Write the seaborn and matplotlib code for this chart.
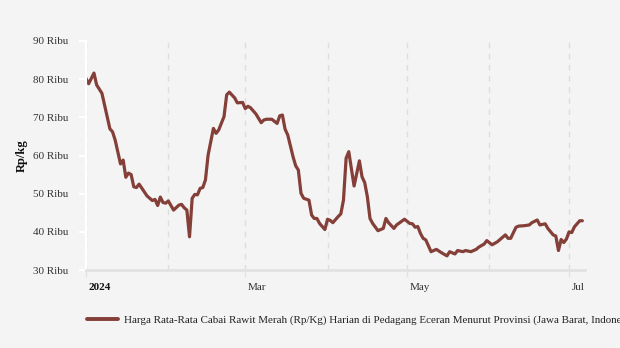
import matplotlib
matplotlib.use("Agg")
import matplotlib.pyplot as plt
import matplotlib.dates as mdates
import matplotlib.ticker as mticker
import matplotlib.transforms as mtransforms
from matplotlib.lines import Line2D
import numpy as np
import pandas as pd
import seaborn as sns

# ---- data (day offset from 2024-01-01, price in thousand Rp/kg) ----
day_offsets = [0, 1, 3, 4, 6, 9, 10, 11, 13, 14, 15, 16, 17, 18, 19, 20, 22, 23, 25, 26,
               27, 28, 29, 30, 31, 33, 35, 36, 37, 38, 39, 40, 41, 42, 43, 44, 45, 46, 47, 48,
               49, 50, 52, 53, 54, 56, 57, 59, 60, 61, 62, 64, 66, 67, 68, 70, 72, 73, 74, 75,
               76, 78, 79, 80, 81, 82, 84, 85, 86, 87, 88, 90, 91, 92, 93, 95, 96, 97, 98, 99,
               101, 103, 104, 105, 106, 107, 108, 110, 112, 113, 114, 116, 117, 120, 122, 123, 124, 125, 126, 127,
               128, 130, 132, 134, 136, 137, 139, 140, 142, 143, 145, 147, 148, 150, 151, 153, 155, 157, 158, 159,
               160, 162, 163, 165, 167, 168, 170, 171, 173, 174, 176, 177, 178, 179, 180, 181, 182, 183, 184, 186,
               187]
prices = [80.2, 78.8, 81.6, 78.5, 76.3, 67.0, 66.2, 64.0, 57.8, 58.8, 54.3, 55.4, 55.0, 51.8, 51.6, 52.5, 50.4, 49.4, 48.2, 48.5,
          46.9, 49.1, 47.7, 47.5, 48.1, 45.7, 47.0, 47.2, 46.3, 45.7, 38.7, 48.8, 49.8, 49.7, 51.4, 51.6, 53.6, 60.1, 63.6, 67.1,
          65.8, 66.7, 70.2, 75.9, 76.6, 75.1, 73.8, 73.9, 72.3, 72.9, 72.5, 70.9, 68.6, 69.3, 69.5, 69.5, 68.4, 70.4, 70.6, 66.9,
          65.4, 59.7, 57.3, 56.2, 50.1, 48.8, 48.3, 44.4, 43.5, 43.5, 42.2, 40.6, 43.3, 43.0, 42.4, 44.0, 44.7, 48.3, 59.3, 61.0,
          52.0, 58.6, 54.4, 52.9, 49.2, 43.5, 42.2, 40.3, 40.9, 43.5, 42.4, 40.9, 41.8, 43.3, 42.2, 42.1, 41.2, 41.4, 39.6, 38.3,
          37.9, 34.8, 35.4, 34.5, 33.7, 34.8, 34.2, 35.1, 34.8, 35.1, 34.8, 35.4, 36.0, 36.8, 37.7, 36.6, 37.4, 38.6, 39.2, 38.3,
          38.3, 41.2, 41.5, 41.6, 41.8, 42.4, 43.1, 41.8, 42.1, 40.9, 39.2, 38.9, 35.1, 38.0, 37.2, 38.1, 40.0, 39.8, 41.3, 42.9,
          42.9]
series_label = ("Harga Rata-Rata Cabai Rawit Merah (Rp/Kg) Harian di Pedagang Eceran "
                "Menurut Provinsi (Jawa Barat, Indonesia)")
y_ticks = [30, 40, 50, 60, 70, 80, 90]
x_tick_labels = ["2024", "Mar", "May", "Jul"]

start = pd.Timestamp("2024-01-01")
df = pd.DataFrame({
    "date": [start + pd.Timedelta(days=d) for d in day_offsets],
    "price": prices,
    "series": series_label,
})

# ---- style ----
sns.set_theme(style="white")
bg = "#f4f4f4"
plt.rcParams["font.family"] = ["Liberation Serif", "DejaVu Serif"]

fig = plt.figure(figsize=(6.2, 3.48), dpi=100, facecolor=bg)
ax = fig.add_axes([86 / 620, 1 - 270 / 348, (585 - 86) / 620, (270 - 41) / 348])
ax.set_facecolor(bg)

line_color = "#843f38"
sns.lineplot(data=df, x="date", y="price", hue="series", palette=[line_color],
             linewidth=2.3, ax=ax, legend=False)

ax.set_xlim(pd.Timestamp("2024-01-01"), pd.Timestamp("2024-07-07"))
ax.set_ylim(30, 90)

# y axis
ax.set_yticks(y_ticks)
ax.yaxis.set_major_formatter(mticker.FuncFormatter(lambda v, p: f"{int(v)} Ribu"))
ax.tick_params(axis="y", length=5, width=1.5, color="white", pad=8, labelsize=8,
               labelcolor="#333333", left=True)
ax.set_ylabel("Rp/kg", fontsize=9, fontweight="bold", color="#111111")
ax.yaxis.set_label_coords((28 - 86) / 499, 0.5)

# x axis
major_dates = [pd.Timestamp("2024-01-01"), pd.Timestamp("2024-03-01"),
               pd.Timestamp("2024-05-01"), pd.Timestamp("2024-07-01")]
ax.set_xticks(major_dates)
ax.set_xticklabels(x_tick_labels)
ax.xaxis.set_minor_locator(mdates.MonthLocator())
ax.tick_params(axis="x", which="major", length=5, width=1, color="#e2e2e2", pad=4,
               labelsize=8, labelcolor="#333333", bottom=True)
ax.tick_params(axis="x", which="minor", length=0)
shift = mtransforms.ScaledTranslation(2.5 / 100, 0, fig.dpi_scale_trans)
for lbl in ax.get_xticklabels():
    lbl.set_horizontalalignment("left")
    lbl.set_transform(lbl.get_transform() + shift)
ax.get_xticklabels()[0].set_fontweight("bold")
ax.get_xticklabels()[0].set_color("#111111")
ax.set_xlabel("")

ax.grid(False)
ax.grid(axis="x", which="both", color="#dddddd", linestyle=(0, (4, 4)), linewidth=1)
ax.set_axisbelow(True)

for s in ["top", "right"]:
    ax.spines[s].set_visible(False)
ax.spines["left"].set_color("white")
ax.spines["left"].set_linewidth(1.5)
ax.spines["bottom"].set_color("#e2e2e2")
ax.spines["bottom"].set_linewidth(2)

handle = Line2D([], [], color=line_color, linewidth=2.8)
fig.legend([handle], [series_label], loc="center left",
           bbox_to_anchor=(77 / 620, 1 - 320 / 348), frameon=False, fontsize=7.9,
           handlelength=2.8, handletextpad=0.6, labelcolor="#222222")

fig.savefig("out.png", dpi=100, facecolor=bg)
